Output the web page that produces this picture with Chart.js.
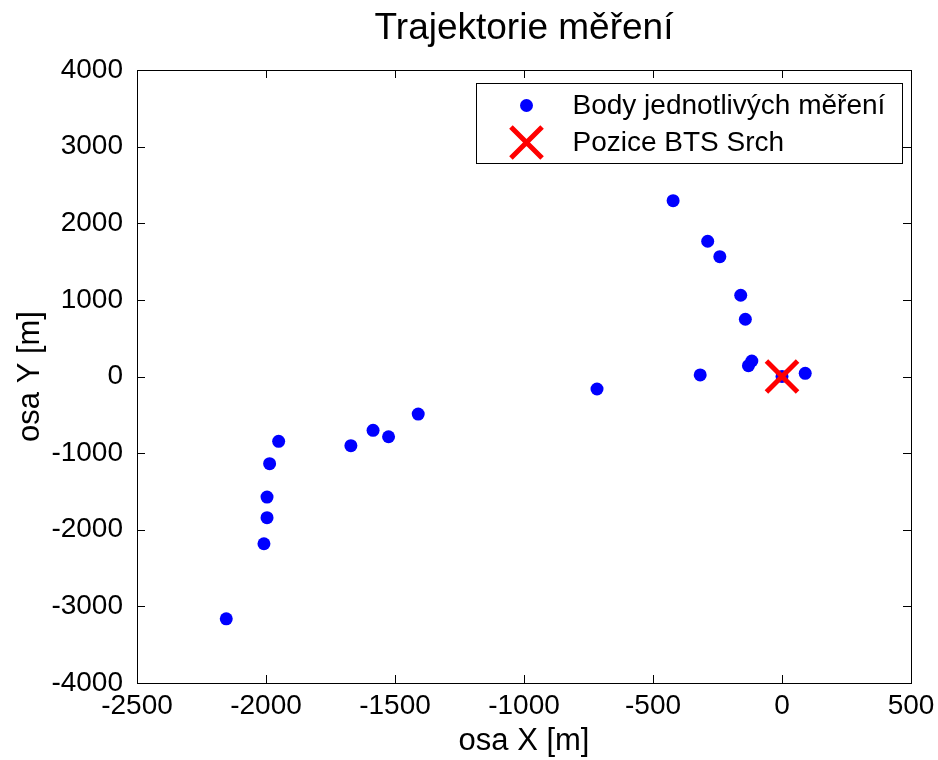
<!DOCTYPE html>
<html>
<head>
<meta charset="utf-8">
<script src="https://cdn.jsdelivr.net/npm/chart.js@4.4.1/dist/chart.umd.min.js"></script>
<style>
  body { margin: 0; background: #fff; }
</style>
</head>
<body>
<canvas id="chart1" width="938" height="760"></canvas>
<script>
// body mereni (x, y v metrech)
let mereniX = [-422, -288, -241, -160, -142, -117, -130, -317, 90, 0, -717, -1410, -1585, -1525, -1671, -1951, -1986, -1996, -1996, -2008, -2154]
let mereniY = [2295, 1765, 1564, 1060, 747, 202, 141, 20, 42, 0, -163, -490, -702, -786, -903, -846, -1138, -1573, -1843, -2183, -3162]
// pozice BTS
let btsX = [0]
let btsY = [0]
let xTicks = [-2500, -2000, -1500, -1000, -500, 0, 500]
let yTicks = [-4000, -3000, -2000, -1000, 0, 1000, 2000, 3000, 4000]
let legendLabels = ['Body jednotlivých měření', 'Pozice BTS Srch']

let font = "'Liberation Sans', Arial, sans-serif"
Chart.defaults.font.family = font
Chart.defaults.color = '#000'

// ramecek s ticky dovnitr + legenda v rohu (matlab styl)
const frame = {
    id: 'frame',
    afterDraw(chart) {
        let ctx = chart.ctx
        let a = chart.chartArea
        let sx = chart.scales.x, sy = chart.scales.y
        let tl = 8
        ctx.save()
        ctx.strokeStyle = '#000'
        ctx.lineWidth = 1
        ctx.strokeRect(Math.round(a.left) + 0.5, Math.round(a.top) + 0.5, Math.round(a.right - a.left), Math.round(a.bottom - a.top))
        ctx.beginPath()
        xTicks.forEach(v => {
            let px = Math.round(sx.getPixelForValue(v)) + 0.5
            ctx.moveTo(px, a.bottom); ctx.lineTo(px, a.bottom - tl)
            ctx.moveTo(px, a.top); ctx.lineTo(px, a.top + tl)
        })
        yTicks.forEach(v => {
            let py = Math.round(sy.getPixelForValue(v)) + 0.5
            ctx.moveTo(a.left, py); ctx.lineTo(a.left + tl, py)
            ctx.moveTo(a.right, py); ctx.lineTo(a.right - tl, py)
        })
        ctx.stroke()

        // legenda
        let bw = 426, bh = 80
        let bx = Math.round(a.right - 9 - bw) + 0.5
        let by = Math.round(a.top + 13) + 0.5
        ctx.fillStyle = '#fff'
        ctx.fillRect(bx, by, bw, bh)
        ctx.strokeRect(bx, by, bw, bh)
        ctx.font = '28px ' + font
        ctx.textBaseline = 'middle'
        ctx.textAlign = 'left'
        chart.data.datasets.forEach((ds, i) => {
            let cy = by + 22 + i * 37
            let cx = bx + 50
            ctx.fillStyle = ds.backgroundColor
            ctx.strokeStyle = ds.borderColor
            ctx.lineWidth = ds.borderWidth
            Chart.helpers.drawPoint(ctx, {
                pointStyle: ds.pointStyle,
                radius: ds.pointRadius,
                borderWidth: ds.borderWidth,
                rotation: 0
            }, cx, cy)
            ctx.fillStyle = '#000'
            ctx.fillText(legendLabels[i], bx + 96, cy + 1)
        })
        ctx.restore()
    }
}

let ctx = document.getElementById('chart1').getContext('2d')
let myChart = new Chart(ctx, {
    type: 'scatter',
    data: {
        datasets: [{
            label: legendLabels[0],
            data: mereniX.map((x, i) => ({x: x, y: mereniY[i]})),
            pointStyle: 'circle',
            pointRadius: 6.5,
            borderWidth: 0,
            backgroundColor: '#0000ff',
            borderColor: '#0000ff',
            order: 2
        }, {
            label: legendLabels[1],
            data: btsX.map((x, i) => ({x: x, y: btsY[i]})),
            pointStyle: 'crossRot',
            pointRadius: 22,
            borderWidth: 5,
            backgroundColor: '#ff0000',
            borderColor: '#ff0000',
            order: 1
        }]
    },
    options: {
        responsive: false,
        animation: false,
        layout: { padding: { left: 0, right: 26, top: 0, bottom: 0 } },
        plugins: {
            legend: { display: false },
            tooltip: { enabled: false },
            title: {
                display: true,
                text: 'Trajektorie měření',
                fullSize: false,
                font: { size: 37, weight: 'normal' },
                color: '#000',
                padding: { top: 7, bottom: 18.6 }
            }
        },
        scales: {
            x: {
                type: 'linear',
                min: -2500,
                max: 500,
                grid: { display: false, drawTicks: false },
                border: { display: false },
                afterFit: function (scale) {
                    scale.height = 77
                    scale.paddingLeft = 0
                    scale.paddingRight = 0
                },
                afterBuildTicks: function (scale) { scale.ticks = xTicks.map(v => ({value: v})) },
                ticks: {
                    padding: 6,
                    maxRotation: 0,
                    font: { size: 28 },
                    callback: v => String(v)
                },
                title: {
                    display: true,
                    text: 'osa X [m]',
                    font: { size: 31 },
                    padding: { top: 0, bottom: 0 }
                }
            },
            y: {
                type: 'linear',
                min: -4000,
                max: 4000,
                grid: { display: false, drawTicks: false },
                border: { display: false },
                afterFit: function (scale) { scale.width = 137 },
                afterBuildTicks: function (scale) { scale.ticks = yTicks.map(v => ({value: v})) },
                ticks: {
                    padding: 14,
                    font: { size: 28 },
                    callback: v => String(v)
                },
                title: {
                    display: true,
                    text: 'osa Y [m]',
                    font: { size: 31 },
                    padding: { top: 12, bottom: 0 }
                }
            }
        }
    },
    plugins: [frame]
})
</script>
</body>
</html>
